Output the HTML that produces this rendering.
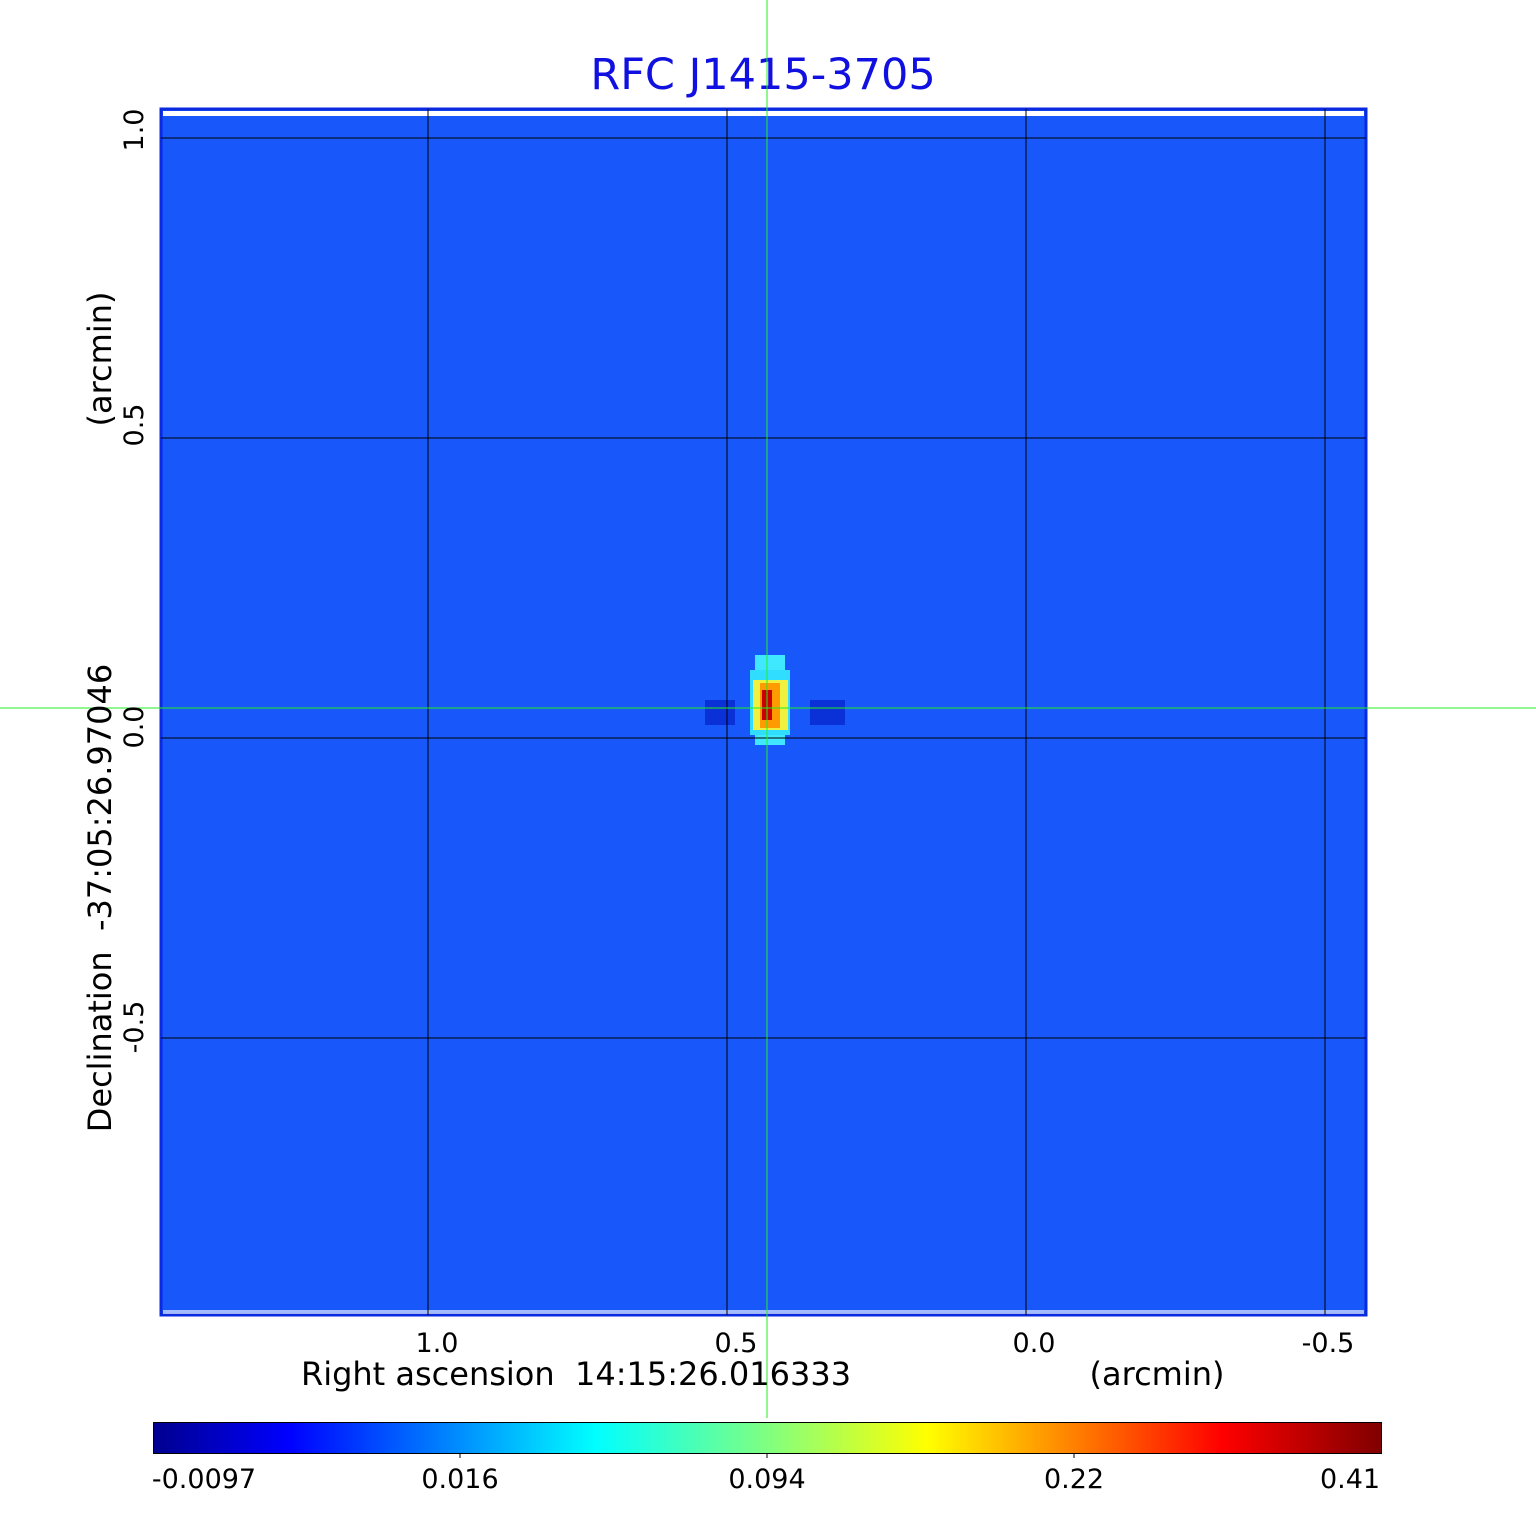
<!DOCTYPE html>
<html><head><meta charset="utf-8"><style>
body{margin:0;background:#fff;width:1536px;height:1511px;overflow:hidden}
svg text{font-family:"DejaVu Sans","Liberation Sans",sans-serif;white-space:pre}
</style></head><body>
<svg width="1536" height="1511" viewBox="0 0 1536 1511" xml:space="preserve">
<defs>
<linearGradient id="jet" x1="0" x2="1" y1="0" y2="0">
<stop offset="0" stop-color="#00008f"/>
<stop offset="0.11" stop-color="#0000ff"/>
<stop offset="0.36" stop-color="#00ffff"/>
<stop offset="0.5" stop-color="#80ff80"/>
<stop offset="0.63" stop-color="#ffff00"/>
<stop offset="0.87" stop-color="#ff0000"/>
<stop offset="1" stop-color="#800000"/>
</linearGradient>
</defs>
<text x="763" y="89" font-size="43" fill="#1010e0" text-anchor="middle">RFC J1415-3705</text>
<rect x="161" y="109" width="1205" height="1206" fill="#1858fb" stroke="#0a2ae0" stroke-width="3"/>
<rect x="163" y="111" width="1201" height="5" fill="#fff"/>
<rect x="163" y="1310" width="1201" height="4" fill="#fff" opacity="0.6"/>
<rect x="705" y="700" width="30" height="25" fill="#0a30d8"/>
<rect x="810" y="700" width="35" height="25" fill="#0a30d8"/>
<rect x="755" y="655" width="30" height="90" fill="#40e8ff"/>
<rect x="750" y="670" width="40" height="65" fill="#30ddff"/>
<rect x="753" y="680" width="35" height="50" fill="#f0f040"/>
<rect x="760" y="683" width="20" height="45" fill="#ff9a00"/>
<rect x="762" y="690" width="10" height="30" fill="#c80000"/>
<g stroke="#000" stroke-width="1">
<line x1="428" y1="109" x2="428" y2="1315"/>
<line x1="727" y1="109" x2="727" y2="1315"/>
<line x1="1026" y1="109" x2="1026" y2="1315"/>
<line x1="1325" y1="109" x2="1325" y2="1315"/>
<line x1="161" y1="138" x2="1366" y2="138"/>
<line x1="161" y1="438" x2="1366" y2="438"/>
<line x1="161" y1="738" x2="1366" y2="738"/>
<line x1="161" y1="1038" x2="1366" y2="1038"/>
</g>
<g stroke="#22ee22" stroke-width="1">
<line x1="767" y1="0" x2="767" y2="1418"/>
<line x1="0" y1="708" x2="1536" y2="708"/>
</g>
<g font-size="27" fill="#000" text-anchor="middle">
<text x="437" y="1352">1.0</text>
<text x="736" y="1352">0.5</text>
<text x="1034" y="1352">0.0</text>
<text x="1328" y="1352">-0.5</text>
<text x="576" y="1385" font-size="32">Right ascension  14:15:26.016333</text>
<text x="1157" y="1385" font-size="32">(arcmin)</text>
<text transform="translate(143,130) rotate(-90)">1.0</text>
<text transform="translate(143,425) rotate(-90)">0.5</text>
<text transform="translate(143,727) rotate(-90)">0.0</text>
<text transform="translate(143,1027) rotate(-90)">-0.5</text>
<text transform="translate(111,898) rotate(-90)" font-size="32">Declination  -37:05:26.97046</text>
<text transform="translate(111,359) rotate(-90)" font-size="32">(arcmin)</text>
</g>
<rect x="153.5" y="1422.5" width="1228" height="31" fill="url(#jet)" stroke="#000" stroke-width="1"/>
<g stroke="#000"><line x1="460" y1="1453" x2="460" y2="1458"/><line x1="767" y1="1453" x2="767" y2="1458"/><line x1="1074" y1="1453" x2="1074" y2="1458"/></g>
<g font-size="27" fill="#000" text-anchor="middle">
<text x="204" y="1488">-0.0097</text>
<text x="460" y="1488">0.016</text>
<text x="767" y="1488">0.094</text>
<text x="1074" y="1488">0.22</text>
<text x="1350" y="1488">0.41</text>
</g>
</svg>
</body></html>
